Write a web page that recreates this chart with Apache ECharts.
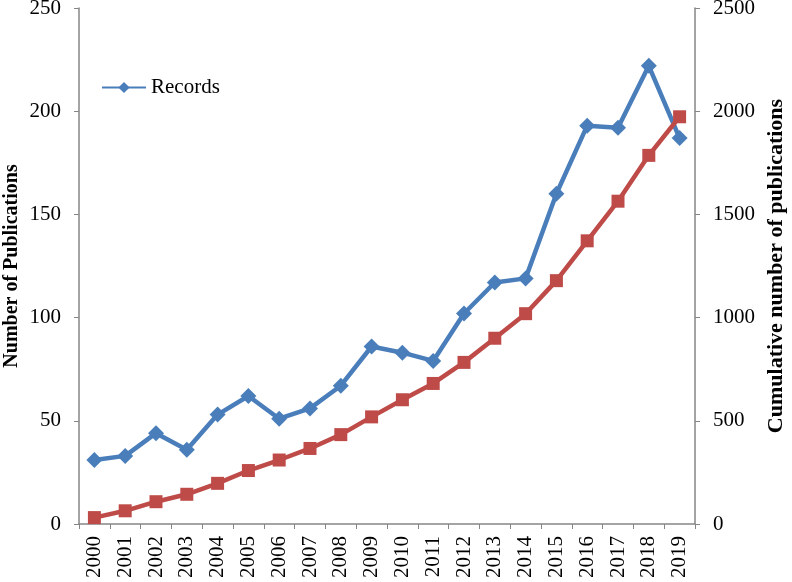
<!DOCTYPE html>
<html>
<head>
<meta charset="utf-8">
<script src="https://cdn.jsdelivr.net/npm/echarts@6/dist/echarts.min.js"></script>
<style>
  html, body { margin: 0; padding: 0; background: #fff; }
  #chart { width: 792px; height: 582px; }
</style>
</head>
<body>
<div id="chart"></div>
<script>
// Publications per year (left axis) and cumulative total (right axis)
const years = ['2000', '2001', '2002', '2003', '2004', '2005', '2006', '2007', '2008', '2009',
  '2010', '2011', '2012', '2013', '2014', '2015', '2016', '2017', '2018', '2019'];
const records = [31, 33, 44, 36, 53, 62, 51, 56, 67, 86, 83, 79, 102, 117, 119, 160, 193, 192, 222, 187];
const cumulative = [31, 64, 108, 144, 197, 259, 310, 366, 433, 519, 602, 681, 783, 900, 1019, 1179, 1372, 1564, 1786, 1973];

const axisColor = '#868686';
const fontFamily = '"Liberation Serif", "Times New Roman", serif';
const blue = '#4a7ebb';
const red = '#be4b48';

const chart = echarts.init(document.getElementById('chart'));

const option = {
  animation: false,
  textStyle: { fontFamily: fontFamily },
  grid: { left: 79, right: 97, top: 8, bottom: 58, outerBoundsMode: 'none', containLabel: false },
  legend: {
    data: ['Records'],
    left: 96,
    top: 72,
    itemWidth: 44,
    itemHeight: 14,
    itemGap: 2,
    textStyle: { fontFamily: fontFamily, fontSize: 21, color: '#000' },
  },
  xAxis: {
    type: 'category',
    data: years,
    boundaryGap: true,
    axisLine: { lineStyle: { color: axisColor, width: 1.5 } },
    axisTick: { show: true, length: 5, lineStyle: { color: axisColor } },
    axisLabel: { rotate: 90, fontSize: 21, color: '#000', margin: 12, fontFamily: fontFamily },
    splitLine: { show: false },
  },
  yAxis: [
    {
      type: 'value',
      min: 0,
      max: 250,
      interval: 50,
      name: 'Number of Publications',
      nameLocation: 'middle',
      nameGap: 57,
      nameRotate: 90,
      nameMoveOverlap: false,
      nameTextStyle: { fontSize: 20, fontWeight: 'bold', color: '#000', fontFamily: fontFamily },
      axisLine: { show: true, lineStyle: { color: axisColor, width: 1.5 } },
      axisTick: { show: true, length: 5, lineStyle: { color: axisColor } },
      axisLabel: { fontSize: 21, color: '#000', margin: 18, fontFamily: fontFamily },
      splitLine: { show: false },
    },
    {
      type: 'value',
      min: 0,
      max: 2500,
      interval: 500,
      position: 'right',
      name: 'Cumulative number of publications',
      nameLocation: 'middle',
      nameGap: 70,
      nameRotate: 90,
      nameMoveOverlap: false,
      nameTextStyle: { fontSize: 22, fontWeight: 'bold', color: '#000', fontFamily: fontFamily },
      axisLine: { show: true, lineStyle: { color: axisColor, width: 1.5 } },
      axisTick: { show: true, length: 5, lineStyle: { color: axisColor } },
      axisLabel: { fontSize: 21, color: '#000', margin: 18, fontFamily: fontFamily, formatter: (v) => String(v) },
      splitLine: { show: false },
    },
  ],
  series: [
    {
      name: 'Records',
      type: 'line',
      yAxisIndex: 0,
      data: records,
      symbol: 'diamond',
      symbolSize: 16,
      lineStyle: { color: blue, width: 4.5 },
      itemStyle: { color: blue },
    },
    {
      name: 'Cumulative',
      type: 'line',
      yAxisIndex: 1,
      data: cumulative,
      symbol: 'rect',
      symbolSize: 13,
      lineStyle: { color: red, width: 4.5 },
      itemStyle: { color: red },
    },
  ],
};

chart.setOption(option);
</script>
</body>
</html>
